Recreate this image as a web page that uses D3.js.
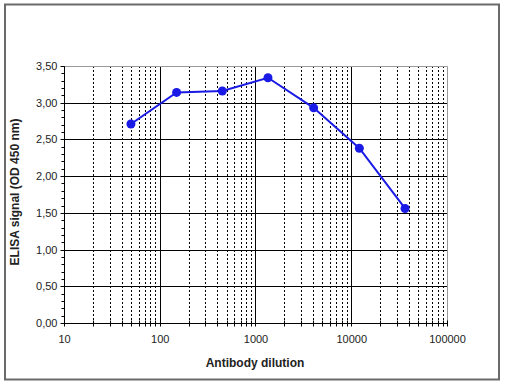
<!DOCTYPE html>
<html><head><meta charset="utf-8">
<script src="https://cdn.jsdelivr.net/npm/d3@7"></script>
<style>body{margin:0;background:#fff}svg{display:block}text{font-family:Arial,"Liberation Sans",sans-serif}</style>
</head><body><svg id="c" width="505" height="384"></svg>
<script>
const dilutions = [50, 150, 450, 1350, 4050, 12150, 36450];
const signals = [2.71, 3.14, 3.16, 3.34, 2.93, 2.38, 1.56];
const xTickValues = [10, 100, 1000, 10000, 100000];
const yTickValues = [0, 0.5, 1, 1.5, 2, 2.5, 3, 3.5];
const xTitle = "Antibody dilution";
const yTitle = "ELISA signal (OD 450 nm)";

const svg = d3.select("#c");
const L = 64, R = 447, T = 66, B = 323;
const x = d3.scaleLog().domain([10, 100000]).range([L, R]);
const y = d3.scaleLinear().domain([0, 3.5]).range([B, T]);

svg.append("rect").attr("x", 5).attr("y", 4.5).attr("width", 494).attr("height", 375)
  .attr("fill", "#fff").attr("stroke", "#6a6a6a").attr("stroke-width", 2);

// minor x positions
const minors = [];
for (let d = 10; d < 100000; d *= 10) for (let k = 2; k <= 9; k++) minors.push(d * k);

const g = svg.append("g");
g.selectAll(".mv").data(minors).join("line")
  .attr("x1", d => Math.round(x(d)) + 0.5).attr("x2", d => Math.round(x(d)) + 0.5)
  .attr("y1", T).attr("y2", B).attr("stroke", "#000").attr("stroke-dasharray", "2,2");
g.selectAll(".Mv").data([100, 1000, 10000]).join("line")
  .attr("x1", d => Math.round(x(d)) + 0.5).attr("x2", d => Math.round(x(d)) + 0.5)
  .attr("y1", T).attr("y2", B).attr("stroke", "#000");
g.selectAll(".h").data(yTickValues.filter(v => v > 0 && v < 3.5)).join("line")
  .attr("x1", L).attr("x2", R).attr("y1", d => Math.round(y(d)) + 0.5).attr("y2", d => Math.round(y(d)) + 0.5)
  .attr("stroke", "#000");
// plot border top/right grey
g.append("path").attr("d", `M${L},${T + 0.5}H${R + 0.5}V${B}`).attr("fill", "none").attr("stroke", "#999");

// y axis
const yAxis = d3.axisLeft(y).tickValues(yTickValues).tickSize(4).tickPadding(3)
  .tickFormat(d => d3.format(".2f")(d).replace(".", ","));
const ya = svg.append("g").attr("transform", `translate(${L + 0.5},0.5)`).call(yAxis);
ya.select(".domain").attr("stroke", "#000").attr("d", `M0,${T}V${B}`);
ya.selectAll("text").attr("font-size", 11).attr("fill", "#222");
ya.selectAll(".tick").attr("transform", d => `translate(0,${Math.round(y(d))})`);
const yMinor = d3.range(0, 36).map(i => i / 10);
ya.selectAll(".ym").data(yMinor).join("line")
  .attr("x1", -3).attr("x2", 0).attr("y1", d => Math.round(y(d))).attr("y2", d => Math.round(y(d))).attr("stroke", "#000");

// x axis
const xAxis = d3.axisBottom(x).tickValues(xTickValues).tickSize(0).tickPadding(12)
  .tickFormat(d3.format("d"));
const xa = svg.append("g").attr("transform", `translate(0,${B + 0.5})`).call(xAxis);
xa.select(".domain").attr("stroke", "#000").attr("d", `M${L},0H${R}`);
xa.selectAll("text").attr("font-size", 11).attr("fill", "#222");
xa.selectAll(".xt").data(minors.concat(xTickValues)).join("line")
  .attr("x1", d => Math.round(x(d)) + 0.5).attr("x2", d => Math.round(x(d)) + 0.5)
  .attr("y1", -3).attr("y2", 3).attr("stroke", "#000");

// line + points
const pts = dilutions.map((d, i) => [x(d), y(signals[i])]);
svg.append("path").attr("d", d3.line()(pts)).attr("fill", "none").attr("stroke", "#1a1ae6").attr("stroke-width", 2);
svg.selectAll(".pt").data(pts).join("circle").attr("cx", d => d[0]).attr("cy", d => d[1]).attr("r", 4.5)
  .attr("fill", "#1a1ae6");

svg.append("text").attr("x", 255).attr("y", 367).attr("text-anchor", "middle")
  .attr("font-size", 12).attr("font-weight", "bold").attr("fill", "#222").text(xTitle);
svg.append("text").attr("transform", "translate(19,192) rotate(-90)").attr("text-anchor", "middle")
  .attr("font-size", 12).attr("font-weight", "bold").attr("fill", "#222").text(yTitle);
</script></body></html>
